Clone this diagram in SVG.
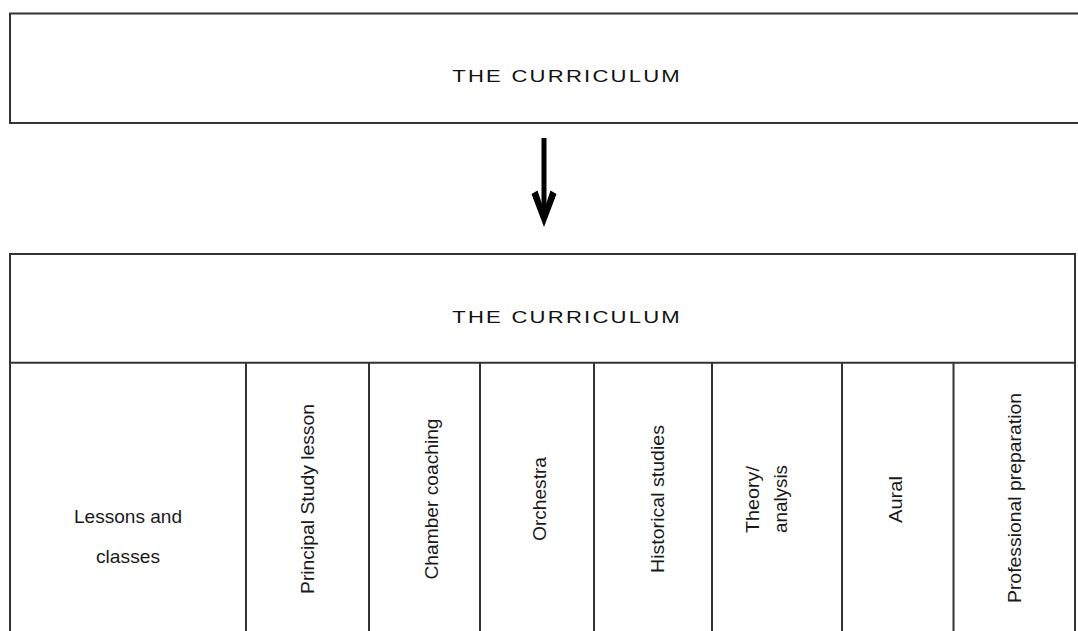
<svg xmlns="http://www.w3.org/2000/svg" width="1078" height="631" viewBox="0 0 1078 631">
<defs>
<style>
.box{fill:#fff;stroke:#333;stroke-width:2}
.div{stroke:#333;stroke-width:2;fill:none}
.title{font-family:"Liberation Sans",Arial,sans-serif;font-size:17px;fill:#111;text-anchor:middle}
.lbl{font-family:"Liberation Sans",Arial,sans-serif;font-size:19px;fill:#1a1a1a;text-anchor:middle}
</style>
</defs>
<rect width="1078" height="631" fill="#fff"/>
<g id="node-top">
<rect class="box" x="10" y="13.5" width="1085" height="109.5"/>
<text class="title" transform="translate(566,82) scale(1.3,1)" textLength="175" lengthAdjust="spacing">THE CURRICULUM</text>
</g>
<g id="connectors">
<line x1="544" y1="138" x2="544" y2="214" stroke="#000" stroke-width="5"/>
<path d="M531.5,194 L537.5,190.5 L544,210 L550.5,190.5 L556.5,194 L544,227 Z" fill="#000"/>
</g>
<g id="node-curriculum">
<rect class="box" x="10" y="254" width="1065" height="390"/>
<line class="div" x1="10" y1="362.7" x2="1075" y2="362.7"/>
<text class="title" transform="translate(566,323) scale(1.3,1)" textLength="175" lengthAdjust="spacing">THE CURRICULUM</text>
</g>
<g id="col-lessons">
<text class="lbl" x="128" y="523" textLength="108" lengthAdjust="spacingAndGlyphs">Lessons and</text>
<text class="lbl" x="128" y="563" textLength="64" lengthAdjust="spacingAndGlyphs">classes</text>
</g>
<g id="col-principal">
<line class="div" x1="246" y1="362.7" x2="246" y2="640"/>
<text class="lbl" transform="translate(314,499) rotate(-90)" textLength="190" lengthAdjust="spacingAndGlyphs">Principal Study lesson</text>
</g>
<g id="col-chamber">
<line class="div" x1="369" y1="362.7" x2="369" y2="640"/>
<text class="lbl" transform="translate(437.5,499) rotate(-90)" textLength="161" lengthAdjust="spacingAndGlyphs">Chamber coaching</text>
</g>
<g id="col-orchestra">
<line class="div" x1="480" y1="362.7" x2="480" y2="640"/>
<text class="lbl" transform="translate(545.5,499) rotate(-90)" textLength="84" lengthAdjust="spacingAndGlyphs">Orchestra</text>
</g>
<g id="col-historical">
<line class="div" x1="594" y1="362.7" x2="594" y2="640"/>
<text class="lbl" transform="translate(664,499) rotate(-90)" textLength="148" lengthAdjust="spacingAndGlyphs">Historical studies</text>
</g>
<g id="col-theory">
<line class="div" x1="712" y1="362.7" x2="712" y2="640"/>
<text class="lbl" transform="translate(758.5,499.5) rotate(-90)" textLength="67" lengthAdjust="spacingAndGlyphs">Theory/</text>
<text class="lbl" transform="translate(787,499) rotate(-90)" textLength="68" lengthAdjust="spacingAndGlyphs">analysis</text>
</g>
<g id="col-aural">
<line class="div" x1="842" y1="362.7" x2="842" y2="640"/>
<text class="lbl" transform="translate(901.5,499.5) rotate(-90)" textLength="47" lengthAdjust="spacingAndGlyphs">Aural</text>
</g>
<g id="col-professional">
<line class="div" x1="953.5" y1="362.7" x2="953.5" y2="640"/>
<text class="lbl" transform="translate(1021,498) rotate(-90)" textLength="210" lengthAdjust="spacingAndGlyphs">Professional preparation</text>
</g>
</svg>
